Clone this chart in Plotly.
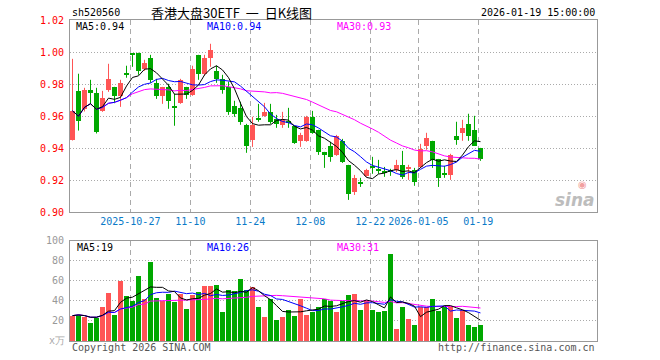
import pandas as pd
import plotly.graph_objects as go

# ---------------- data ----------------
dates = [d.strftime("%Y-%m-%d") for d in pd.bdate_range("2025-10-13", "2026-01-19")
         if d.strftime("%Y-%m-%d") not in ("2026-01-01", "2026-01-02")]

opens = [0.9452, 0.9758, 0.9646, 0.9765, 0.9746, 0.9633, 0.9765, 0.9783, 0.9727, 0.9858,
         0.9983, 0.9996, 0.9896, 0.9965, 0.9808, 0.9727, 0.9783, 0.9652, 0.9683, 0.9783,
         0.9733, 0.9983, 0.9865, 0.9965, 0.9883, 0.9833, 0.9783, 0.9665, 0.9652, 0.9546,
         0.9452, 0.9577, 0.9602, 0.9627, 0.9583, 0.9546, 0.9571, 0.9540, 0.9446, 0.9446,
         0.9596, 0.9515, 0.9377, 0.9415, 0.9358, 0.9446, 0.9296, 0.9127, 0.9177, 0.9227,
         0.9277, 0.9258, 0.9246, 0.9252, 0.9265, 0.9296, 0.9271, 0.9265, 0.9283, 0.9415,
         0.9446, 0.9333, 0.9233, 0.9233, 0.9477, 0.9496, 0.9552, 0.9515, 0.9402]
highs = [0.9958, 0.9865, 0.9777, 0.9827, 0.9777, 0.9758, 0.9927, 0.9783, 0.9827, 0.9915,
         0.9983, 0.9996, 0.9952, 0.9983, 0.9833, 0.9783, 0.9802, 0.9740, 0.9833, 0.9783,
         0.9915, 0.9983, 0.9983, 1.0052, 0.9915, 0.9858, 0.9815, 0.9696, 0.9690, 0.9552,
         0.9596, 0.9677, 0.9683, 0.9677, 0.9608, 0.9627, 0.9652, 0.9540, 0.9496, 0.9602,
         0.9633, 0.9515, 0.9377, 0.9440, 0.9483, 0.9458, 0.9296, 0.9233, 0.9215, 0.9271,
         0.9346, 0.9327, 0.9283, 0.9271, 0.9327, 0.9383, 0.9296, 0.9277, 0.9427, 0.9496,
         0.9446, 0.9333, 0.9290, 0.9365, 0.9565, 0.9577, 0.9615, 0.9602, 0.9402]
lows = [0.9448, 0.9510, 0.9629, 0.9677, 0.9492, 0.9627, 0.9752, 0.9681, 0.9658, 0.9840,
        0.9908, 0.9858, 0.9883, 0.9808, 0.9708, 0.9677, 0.9646, 0.9540, 0.9677, 0.9708,
        0.9727, 0.9827, 0.9852, 0.9908, 0.9808, 0.9740, 0.9608, 0.9596, 0.9546, 0.9371,
        0.9408, 0.9565, 0.9596, 0.9552, 0.9527, 0.9527, 0.9527, 0.9427, 0.9408, 0.9440,
        0.9490, 0.9358, 0.9277, 0.9315, 0.9352, 0.9308, 0.9077, 0.9108, 0.9158, 0.9221,
        0.9240, 0.9240, 0.9221, 0.9227, 0.9250, 0.9208, 0.9202, 0.9165, 0.9277, 0.9390,
        0.9277, 0.9158, 0.9215, 0.9202, 0.9421, 0.9446, 0.9446, 0.9415, 0.9321]
closes = [0.9633, 0.9567, 0.9765, 0.9746, 0.9504, 0.9715, 0.9833, 0.9727, 0.9808, 0.9858,
          0.9983, 0.9883, 0.9933, 0.9827, 0.9727, 0.9783, 0.9696, 0.9652, 0.9827, 0.9733,
          0.9896, 0.9865, 0.9965, 1.0015, 0.9833, 0.9765, 0.9627, 0.9615, 0.9565, 0.9415,
          0.9546, 0.9577, 0.9627, 0.9565, 0.9552, 0.9577, 0.9556, 0.9433, 0.9483, 0.9596,
          0.9496, 0.9377, 0.9358, 0.9346, 0.9477, 0.9315, 0.9115, 0.9215, 0.9177, 0.9265,
          0.9277, 0.9258, 0.9246, 0.9252, 0.9296, 0.9221, 0.9277, 0.9190, 0.9396, 0.9465,
          0.9327, 0.9215, 0.9233, 0.9358, 0.9452, 0.9527, 0.9477, 0.9415, 0.9333]
volumes = [25.3, 26.7, 24.0, 18.7, 23.7, 34.7, 47.7, 26.7, 59.7, 44.7,
           39.7, 64.7, 41.7, 78.7, 42.7, 39.7, 46.7, 38.7, 46.7, 32.7,
           45.7, 48.7, 54.7, 54.7, 55.7, 29.7, 50.7, 49.7, 61.7, 51.0,
           53.7, 34.7, 24.7, 41.7, 21.7, 24.7, 31.7, 25.7, 41.7, 26.7,
           29.7, 34.7, 41.7, 39.7, 29.7, 39.7, 45.7, 46.7, 31.7, 40.7,
           31.7, 29.7, 30.7, 86.7, 12.7, 34.7, 22.7, 16.7, 34.7, 34.7,
           41.7, 30.7, 34.7, 34.7, 23.7, 31.7, 16.7, 14.7, 16.7]

tick_labels = ["2025-10-27", "11-10", "11-24", "12-08", "12-22", "2026-01-05", "01-19"]
price_ticks = [0.90, 0.92, 0.94, 0.96, 0.98, 1.00, 1.02]
vol_ticks = [20, 40, 60, 80, 100]

# ---------------- styling ----------------
RED = "#ff5555"
GREEN = "#00a800"
GRID = "#aaaaaa"
AXIS = "#999999"
MONO = "DejaVu Sans Mono"

n = len(closes)
idx = list(range(n))
up = [c > o for o, c in zip(opens, closes)]
colors = [RED if u else GREEN for u in up]

close_s = pd.Series(closes)
vol_s = pd.Series(volumes)
ma = {w: close_s.rolling(w, min_periods=1).mean().tolist() for w in (5, 10, 30)}
vma = {w: vol_s.rolling(w, min_periods=1).mean().tolist() for w in (5, 10, 30)}

date_pos = {d: i for i, d in enumerate(dates)}
full_ticks = ["2025-10-27", "2025-11-10", "2025-11-24", "2025-12-08", "2025-12-22", "2026-01-05", "2026-01-19"]
tick_pos = [date_pos[d] - 0.36 for d in full_ticks]

fig = go.Figure()

# wicks
for col, flag in ((RED, True), (GREEN, False)):
    wx, wy = [], []
    for i in idx:
        if up[i] == flag:
            wx += [i, i, None]
            wy += [lows[i], highs[i], None]
    fig.add_trace(go.Scatter(x=wx, y=wy, mode="lines", line=dict(color=col, width=1),
                             hoverinfo="skip", showlegend=False, xaxis="x", yaxis="y"))

# bodies
bases = [min(o, c) for o, c in zip(opens, closes)]
heights = [max(abs(c - o), 0.0006) for o, c in zip(opens, closes)]
fig.add_trace(go.Bar(x=idx, y=heights, base=bases, width=0.83, marker=dict(color=colors, line=dict(width=0)),
                     customdata=dates, hoverinfo="skip", showlegend=False, xaxis="x", yaxis="y"))

# price MAs
for w, col in ((30, "#ff00ff"), (10, "#0000ff"), (5, "#000000")):
    fig.add_trace(go.Scatter(x=idx, y=ma[w], mode="lines", line=dict(color=col, width=1),
                             hoverinfo="skip", showlegend=False, xaxis="x", yaxis="y"))

# volume bars
fig.add_trace(go.Bar(x=idx, y=volumes, width=0.83, marker=dict(color=colors, line=dict(width=0)),
                     hoverinfo="skip", showlegend=False, xaxis="x2", yaxis="y2"))
for w, col in ((30, "#ff00ff"), (10, "#0000ff"), (5, "#000000")):
    fig.add_trace(go.Scatter(x=idx, y=vma[w], mode="lines", line=dict(color=col, width=1),
                             hoverinfo="skip", showlegend=False, xaxis="x2", yaxis="y2"))

xr = [-0.4167, 87.42]
common_x = dict(range=xr, showline=True, mirror=True, linecolor=AXIS, linewidth=1,
                showgrid=True, gridcolor=GRID, griddash="5px,4px", gridwidth=1,
                tickmode="array", tickvals=tick_pos, zeroline=False, ticks="", automargin=False)

fig.update_layout(
    width=660, height=360,
    margin=dict(l=70, r=63, t=20, b=19),
    paper_bgcolor="white", plot_bgcolor="white",
    barmode="overlay", bargap=0,
    font=dict(family=MONO, size=10, color="#000"),
    xaxis=dict(common_x, anchor="y", ticktext=tick_labels, showticklabels=True,
               tickfont=dict(family=MONO, size=10, color="#0a7ac8")),
    xaxis2=dict(common_x, anchor="y2", matches="x", showticklabels=False),
    yaxis=dict(domain=[0.4009, 1.0], range=[0.89995, 1.02005], tickmode="array",
               tickvals=price_ticks, ticktext=[f"{v:.2f}" for v in price_ticks],
               tickfont=dict(family=MONO, size=10, color="#ff0000"),
               showline=True, mirror=True, linecolor=AXIS, linewidth=1,
               showgrid=True, gridcolor=GRID, griddash="1px,2px", zeroline=False,
               ticks="", ticklabelstandoff=3, anchor="x", automargin=False),
    yaxis2=dict(domain=[0.0, 0.3125], range=[0, 100], tickmode="array",
                tickvals=vol_ticks, ticktext=[str(v) for v in vol_ticks],
                tickfont=dict(family=MONO, size=10, color="#999999"),
                showline=True, mirror=True, linecolor=AXIS, linewidth=1,
                showgrid=True, gridcolor=GRID, griddash="1px,2px", zeroline=False,
                ticks="", ticklabelstandoff=3, anchor="x2", automargin=False),
)

def txt(x, y, s, color="#000", anchor="left", size=10, family=MONO, **kw):
    fig.add_annotation(x=x, y=y, xref="paper", yref="paper", text=s, showarrow=False,
                       xanchor=anchor, yanchor="middle",
                       font=dict(family=family, size=size, color=color, **kw))

# pixel -> paper helpers
PW, PH = 660 - 70 - 63, 360 - 20 - 19
px = lambda x: (x - 70) / PW
py = lambda y: (341 - y) / PH

txt(px(69.5), py(12.5), "sh520560")
txt(px(149), py(12.5), "香港大盘30ETF&nbsp;&nbsp;一&nbsp;&nbsp;日K线图", size=13, family="Noto Sans CJK SC")
txt(px(597), py(12.5), "2026-01-19 15:00:00", anchor="right")
txt(px(74), py(26.5), "MA5:0.94", color="#000000")
txt(px(205), py(26.5), "MA10:0.94", color="#0000ff")
txt(px(335), py(26.5), "MA30:0.93", color="#ff00ff")
txt(px(75), py(247), "MA5:19", color="#000000")
txt(px(205), py(247), "MA10:26", color="#0000ff")
txt(px(335), py(247), "MA30:31", color="#ff00ff")
txt(px(66.5), py(340), "x万", color="#aaaaaa", anchor="right")
txt(px(70), py(347), "Copyright 2026 SINA.COM", color="#555555")
txt(px(597), py(347), "http://finance.sina.com.cn", color="#555555", anchor="right")
txt(px(597), py(200), "sina", color="#bdbdbd", anchor="right", size=17,
    family="DejaVu Sans", weight="bold", style="italic")
txt(px(582), py(184), "◉", color="#f2a0a0", anchor="center", size=10, family="DejaVu Sans")

fig.write_html("out.html", config={"displayModeBar": False},
               post_script="document.body.style.margin='0';document.body.style.overflow='hidden';")
